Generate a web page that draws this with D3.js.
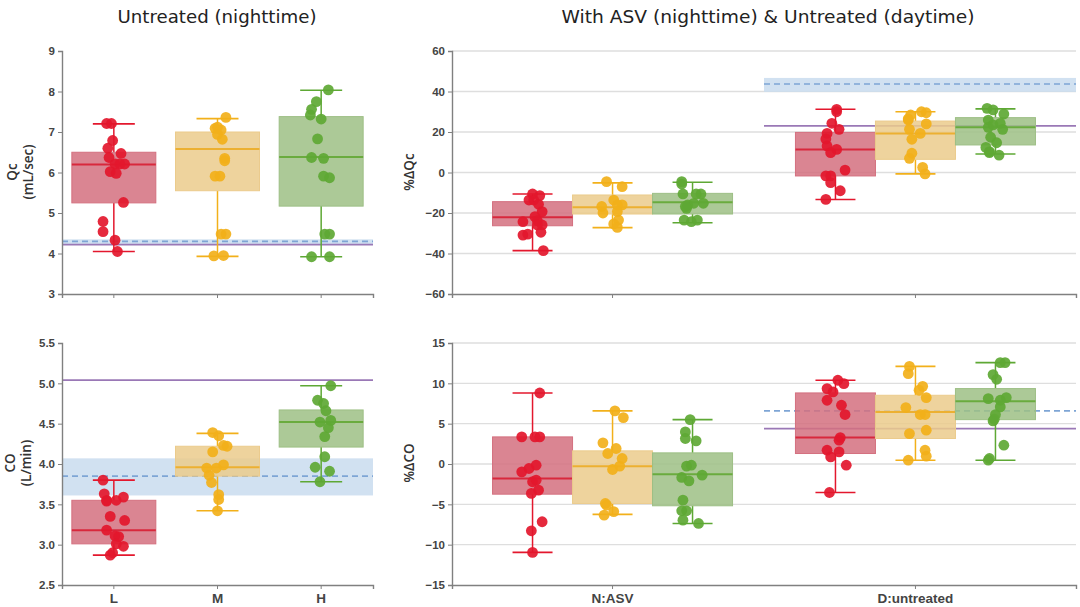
<!DOCTYPE html>
<html><head><meta charset="utf-8">
<script src="https://cdn.jsdelivr.net/npm/d3@7"></script>
<style>
body{margin:0;background:#fff;}
svg{display:block;font-family:"Open Sans",sans-serif;}
.tick text{font-size:11.5px;fill:#444;font-weight:600;}
</style></head><body>
<svg id="c" width="1080" height="607"></svg>
<script>
// ---------- DATA ----------
const groupsLeft = ["L","M","H"];
const conditionsRight = ["N:ASV","D:untreated"];
const seriesNames = ["L","M","H"];

const qcTicks = [3,4,5,6,7,8,9];
const coTicks = [2.5,3.0,3.5,4.0,4.5,5.0,5.5];
const dQcTicks = [-60,-40,-20,0,20,40,60];
const dCoTicks = [-15,-10,-5,0,5,10,15];

// box stats: [q1, median, q3, whiskerLow, whiskerHigh]
const qcNightBox = [[5.25,6.2,6.5,4.05,7.2],[5.55,6.58,7.0,3.93,7.33],[5.17,6.38,7.38,3.92,8.03]];
const qcNightPts = [
  [7.21,7.21,6.79,6.6,6.47,6.37,6.21,6.21,6.21,6.02,5.98,5.26,4.79,4.54,4.33,4.05],
  [7.36,7.12,7.09,7.05,6.94,6.82,6.35,6.29,5.91,5.91,4.48,4.48,3.94,3.95],
  [8.04,7.75,7.56,7.42,7.32,6.83,6.37,6.35,5.91,5.87,4.48,4.48,3.92,3.92]];
const qcNightRef = {purple:4.22, blue:4.30, band:[4.22,4.35]};

const coNightBox = [[3.01,3.18,3.55,2.87,3.80],[3.85,3.96,4.22,3.42,4.38],[4.21,4.52,4.67,3.78,4.97]];
const coNightPts = [
  [3.80,3.63,3.54,3.55,3.59,3.55,3.35,3.30,3.18,3.11,3.10,2.98,3.01,2.90,2.87],
  [4.39,4.35,4.23,4.22,4.15,3.95,3.99,3.95,3.86,3.77,3.62,3.56,3.42],
  [4.97,4.79,4.75,4.66,4.54,4.52,4.45,4.34,4.09,3.96,3.91,3.78]];
const coNightRef = {purple:5.04, blue:3.85, band:[3.61,4.07]};

const dQcAsvBox = [[-26.3,-22.1,-14.4,-38.6,-10.6],[-20.5,-17.2,-11.1,-27.2,-5.1],[-20.5,-14.7,-10.3,-24.8,-4.8]];
const dQcAsvPts = [
  [-10.6,-11.4,-13.6,-13.6,-15.7,-19.3,-21.8,-23.8,-24.3,-25.9,-25.9,-29.5,-30.9,-30.4,-38.6],
  [-4.5,-7.0,-13.6,-16.0,-16.0,-16.8,-19.3,-23.5,-25.4,-27.1,-20.0],
  [-5.7,-4.5,-10.6,-10.6,-10.6,-15.2,-16.0,-15.2,-17.7,-16.8,-23.5,-24.3,-23.5]];
const dQcDayBox = [[-1.7,11.4,19.8,-13.3,31.2],[6.5,19.3,25.4,-0.7,30.0],[13.6,22.3,27.1,9.1,31.4]];
const dQcDayPts = [
  [31.2,30.0,24.3,21.3,19.3,16.5,13.1,11.4,9.8,1.2,-1.7,-1.7,-5.0,-9.0,-13.3],
  [30.0,29.5,28.4,25.9,24.0,21.3,19.3,16.4,9.5,7.0,2.5,-0.7,26.5],
  [31.7,30.9,28.9,25.9,23.5,24.3,22.3,21.3,17.4,14.7,12.4,10.3,8.6,9.8]];
const dQcDayRef = {purple:23.0, blue:43.7, band:[39.8,46.7]};

const dCoAsvBox = [[-3.74,-1.8,3.36,-10.96,8.8],[-4.89,-0.27,1.63,-6.25,6.58],[-5.18,-1.26,1.38,-7.37,5.5]];
const dCoAsvPts = [
  [8.8,3.36,3.36,3.36,-0.15,-0.56,-0.97,-2.2,-2.0,-3.24,-3.65,-7.16,-8.28,-10.96],
  [6.58,5.75,2.62,1.92,1.30,0.68,-0.27,-0.68,-4.89,-5.1,-5.9,-6.34],
  [5.5,3.98,3.16,2.87,-0.27,-0.15,-1.38,-1.67,-2.09,-4.48,-5.8,-5.8,-6.96,-7.37]];
const dCoDayBox = [[1.3,3.28,8.81,-3.53,10.38],[3.16,6.46,8.52,0.47,12.1],[5.5,7.78,9.35,0.47,12.57]];
const dCoDayPts = [
  [10.38,9.96,9.35,8.93,7.9,7.28,6.13,3.28,2.95,1.71,1.5,0.88,-0.15,-3.53],
  [12.1,11.2,9.63,9.14,8.23,7.0,6.13,6.13,4.19,3.77,1.71,0.97,0.47],
  [12.57,12.57,11.08,10.5,8.23,8.11,7.9,7.08,6.13,5.34,5.55,2.33,0.47,0.68]];
const dCoDayRef = {purple:4.39, blue:6.58, band:null};

// ---------- STYLE ----------
const ptColor = ["#e3172d","#f2b01a","#5ea834"];
const boxFill = ["#d4707f","#ebcb8c","#9dbf85"];
const medColor = ["#d8283c","#ecb032","#6aab3e"];
const purple = "#9a78b6", blueDash = "#7ea5d5", bandFill = "#c9dcee";

const svg = d3.select("#c");

function jitter(i, v){ return (((i*7919 + Math.round(Math.abs(v)*100)*31) % 19) - 9) * 1.2; }

function drawBox(g, cx, w, stats, pts, y, k){
  const [q1,med,q3,lo,hi] = stats;
  g.append("line").attr("x1",cx).attr("x2",cx).attr("y1",y(lo)).attr("y2",y(q1))
    .attr("stroke",ptColor[k]).attr("stroke-width",1.5);
  g.append("line").attr("x1",cx).attr("x2",cx).attr("y1",y(q3)).attr("y2",y(hi))
    .attr("stroke",ptColor[k]).attr("stroke-width",1.5);
  g.append("rect").attr("x",cx-w/2).attr("width",w).attr("y",y(q3)).attr("height",y(q1)-y(q3))
    .attr("fill",boxFill[k]).attr("fill-opacity",0.85).attr("stroke",boxFill[k]).attr("stroke-width",1);
  [lo,hi].forEach(v=>g.append("line").attr("x1",cx-w/4).attr("x2",cx+w/4).attr("y1",y(v)).attr("y2",y(v))
    .attr("stroke",ptColor[k]).attr("stroke-width",1.6));
  g.append("line").attr("x1",cx-w/2).attr("x2",cx+w/2).attr("y1",y(med)).attr("y2",y(med))
    .attr("stroke",medColor[k]).attr("stroke-width",2);
  g.selectAll(null).data(pts).join("circle")
    .attr("cx",(d,i)=>cx+jitter(i,d)).attr("cy",d=>y(d)).attr("r",5.4)
    .attr("fill",ptColor[k]).attr("fill-opacity",0.92);
}

function drawRef(g, x0, x1, y, ref){
  if(ref.band) g.append("rect").attr("x",x0).attr("width",x1-x0).attr("y",y(ref.band[1]))
    .attr("height",y(ref.band[0])-y(ref.band[1])).attr("fill",bandFill).attr("fill-opacity",0.85);
  g.append("line").attr("x1",x0).attr("x2",x1).attr("y1",y(ref.purple)).attr("y2",y(ref.purple))
    .attr("stroke",purple).attr("stroke-width",1.8);
  g.append("line").attr("x1",x0).attr("x2",x1).attr("y1",y(ref.blue)).attr("y2",y(ref.blue))
    .attr("stroke",blueDash).attr("stroke-width",1.6).attr("stroke-dasharray","6,4");
}

function styleAxis(a){
  a.select(".domain").attr("stroke","#808080").attr("stroke-width",1.4);
  a.selectAll(".tick line").attr("stroke","#808080").attr("stroke-width",1);
}

function yLabel(lines, x, yc){
  const t = svg.append("text").attr("transform",`translate(${x},${yc}) rotate(-90)`)
    .attr("text-anchor","middle").attr("font-size",13.5).attr("font-weight",600).attr("fill","#333");
  lines.forEach((s,i)=>t.append("tspan").attr("x",0).attr("dy",i?16:0).text(s));
}

// ---------- LEFT PANELS ----------
const xL = d3.scaleBand().domain(groupsLeft).range([62,373]).padding(0);
const bwL = xL.bandwidth()*0.81;

function leftPanel(top, bottom, domain, ticks, fmt, boxes, pts, ref, showLabels){
  const y = d3.scaleLinear().domain(domain).range([bottom, top]);
  const g = svg.append("g");
  drawRef(g, 62, 373, y, ref);
  groupsLeft.forEach((c,k)=>drawBox(g, xL(c)+xL.bandwidth()/2, bwL, boxes[k], pts[k], y, k));
  const ay = svg.append("g").attr("transform","translate(62,0)")
    .call(d3.axisLeft(y).tickValues(ticks).tickFormat(d3.format(fmt)).tickSize(4).tickPadding(3));
  styleAxis(ay);
  const ax = svg.append("g").attr("transform",`translate(0,${bottom})`)
    .call(d3.axisBottom(xL).tickSize(4).tickPadding(4).tickFormat(showLabels?(d=>d):(()=>"")));
  styleAxis(ax);
  ax.selectAll(".tick text").style("font-size","13.5px").attr("fill","#333");
  return y;
}
leftPanel(51, 294, [3,9], qcTicks, "d", qcNightBox, qcNightPts, qcNightRef, false);
leftPanel(343, 585, [2.5,5.5], coTicks, ".1f", coNightBox, coNightPts, coNightRef, true);

// ---------- RIGHT PANELS ----------
const xR = d3.scaleBand().domain(conditionsRight).range([452,1076]).paddingInner(0).paddingOuter(0.03);
const sub = d3.scaleBand().domain(seriesNames).range([-120,120]).padding(0);

function rightPanel(top, bottom, domain, ticks, boxesA, ptsA, boxesD, ptsD, ref, showLabels){
  const y = d3.scaleLinear().domain(domain).range([bottom, top]);
  const g = svg.append("g");
  g.selectAll(null).data(ticks.slice(1)).join("line")
    .attr("x1",452).attr("x2",1076).attr("y1",d=>y(d)).attr("y2",d=>y(d))
    .attr("stroke","#dedede").attr("stroke-width",1.3);
  drawRef(g, xR("D:untreated"), 1076, y, ref);
  [[boxesA,ptsA],[boxesD,ptsD]].forEach(([bx,pt],ci)=>{
    const cc = xR(conditionsRight[ci]) + xR.bandwidth()/2;
    seriesNames.forEach((s,k)=>drawBox(g, cc + sub(s) + sub.bandwidth()/2, sub.bandwidth(), bx[k], pt[k], y, k));
  });
  const ay = svg.append("g").attr("transform","translate(452,0)")
    .call(d3.axisLeft(y).tickValues(ticks).tickSize(4).tickPadding(3));
  styleAxis(ay);
  const ax = svg.append("g").attr("transform",`translate(0,${bottom})`)
    .call(d3.axisBottom(xR).tickSize(4).tickPadding(4).tickFormat(showLabels?(d=>d):(()=>"")));
  styleAxis(ax);
  ax.selectAll(".tick text").style("font-size","13.5px").attr("fill","#333");
}
rightPanel(51, 294, [-60,60], dQcTicks, dQcAsvBox, dQcAsvPts, dQcDayBox, dQcDayPts, dQcDayRef, false);
rightPanel(343, 585, [-15,15], dCoTicks, dCoAsvBox, dCoAsvPts, dCoDayBox, dCoDayPts, dCoDayRef, true);

// ---------- LABELS ----------
yLabel(["Qc","(mL/sec)"], 17, 172);
yLabel(["CO","(L/min)"], 15, 463);
yLabel(["%ΔQc"], 414, 172);
yLabel(["%ΔCO"], 414, 463);

svg.append("text").attr("x",217).attr("y",23).attr("text-anchor","middle")
  .attr("font-family","DejaVu Sans").attr("font-size",18).attr("fill","#222")
  .attr("textLength",199).attr("lengthAdjust","spacingAndGlyphs").text("Untreated (nighttime)");
svg.append("text").attr("x",768).attr("y",23).attr("text-anchor","middle")
  .attr("font-family","DejaVu Sans").attr("font-size",18).attr("fill","#222")
  .attr("textLength",413).attr("lengthAdjust","spacingAndGlyphs").text("With ASV (nighttime) & Untreated (daytime)");
</script></body></html>
